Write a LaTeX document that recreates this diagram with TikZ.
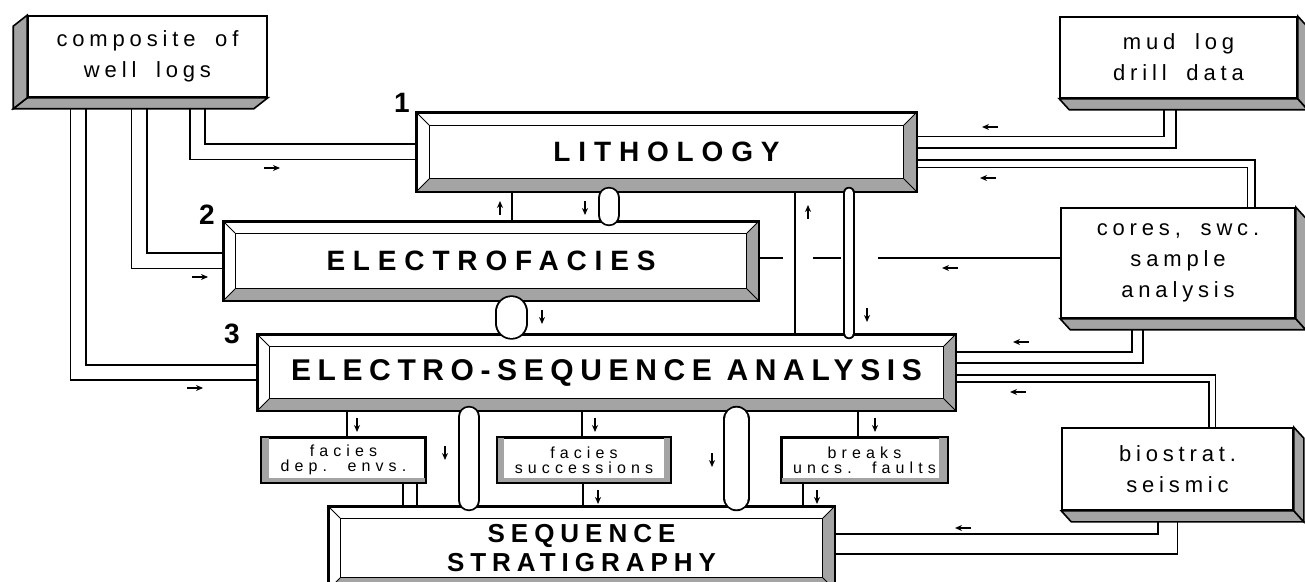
\documentclass[tikz,border=0pt]{standalone}
\usepackage{fontspec}
\setmainfont{Liberation Sans}
\newfontfamily\sourcefont{Liberation Sans}[LetterSpace=22,WordSpace=1.8]
\newfontfamily\subboxfont{Liberation Sans}[LetterSpace=32,WordSpace=1.8]
\usetikzlibrary{arrows.meta,positioning,calc,backgrounds}
\definecolor{bevelgray}{HTML}{A4A4A4}

\newcommand{\bevelframe}[2]{%
  \fill[bevelgray] (#1.south west) -- (#1.south east) -- ([shift={(-#2,-#2)}]#1.south east) -- ([shift={(#2,-#2)}]#1.south west) -- cycle;
  \fill[bevelgray] (#1.south east) -- (#1.north east) -- ([shift={(-#2,#2)}]#1.north east) -- ([shift={(-#2,-#2)}]#1.south east) -- cycle;
  \draw ([shift={(#2,#2)}]#1.north west) rectangle ([shift={(-#2,-#2)}]#1.south east);
  \draw (#1.north west) -- ++(#2,#2) (#1.north east) -- ++(-#2,#2) (#1.south east) -- ++(-#2,-#2) (#1.south west) -- ++(#2,-#2);
  \draw[thick] (#1.south west) rectangle (#1.north east);
}
\newcommand{\slab}[4]{%
  \filldraw[fill=bevelgray, thick] (#1.south west) -- (#1.south east) -- ++(#2,#3) -- ([shift={(#2,#3)}]#1.south west) -- cycle;
  \filldraw[fill=bevelgray, thick] (#1.north #4) -- (#1.south #4) -- ++(#2,#3) -- ([shift={(#2,#3)}]#1.north #4) -- cycle;
}

\begin{document}
\begin{tikzpicture}[x=0.5pt,y=-0.5pt,
    stage/.style={draw, thick, fill=white, inner sep=0pt, align=center,
      font=\bfseries\fontsize{14}{16}\selectfont\addfontfeatures{LetterSpace=28}},
    source/.style={draw, thick, fill=white, inner sep=0pt, align=center,
      font=\sourcefont\fontsize{11}{15.5}\selectfont},
    subbox/.style={draw, thick, fill=white, inner sep=0pt, align=center,
      minimum height=22pt, font=\subboxfont\fontsize{8}{7.5}\selectfont},
    stagenum/.style={inner sep=0pt, font=\bfseries\fontsize{14}{16}\selectfont},
    pipe/.style={draw=black, line width=0.9pt, double=white, double distance=#1},
    pipe/.default=6.5pt,
    stub/.style={pipe=#1, line cap=round},
    wire/.style={line width=0.8pt},
    flow/.style={line width=0.7pt, -{Stealth[length=3.5pt,width=3pt]}}]
  \useasboundingbox (0,0) rectangle (1305,582);

  \node[source, minimum width=119.5pt, minimum height=40.5pt] (comp) at (147.5,56.5) {composite of\\well logs};
  \node[source, minimum width=118.5pt, minimum height=40.5pt] (mud) at (1178.5,57.5) {mud log\\drill data};
  \node[source, minimum width=117pt, minimum height=55pt] (cores) at (1178,263) {cores, swc.\\sample\\analysis};
  \node[source, minimum width=115.5pt, minimum height=41pt] (bio) at (1177.5,469) {biostrat.\\seismic};

  \node[stage, minimum width=249.5pt, minimum height=39pt] (lith) at (666.5,152) {LITHOLOGY};
  \node[stage, minimum width=267pt, minimum height=39pt] (efac) at (491,261) {ELECTROFACIES};
  \node[stage, minimum width=348.5pt, minimum height=37.5pt,
    font=\bfseries\fontsize{15}{17}\selectfont\addfontfeatures{LetterSpace=22}] (esa) at (606.5,372.5) {ELECTRO-SEQUENCE ANALYSIS};
  \node[stage, minimum width=252.5pt, minimum height=41pt,
    font=\bfseries\fontsize{13}{14.5}\selectfont\addfontfeatures{LetterSpace=23}] (ss) at (581.5,548) {SEQUENCE\\STRATIGRAPHY};

  \node[subbox, minimum width=81.5pt] (fde) at (343.5,460) {facies\\dep. envs.};
  \node[subbox, minimum width=86pt] (fsu) at (584,460) {facies\\successions};
  \node[subbox, minimum width=82.5pt] (brk) at (864.5,460) {breaks\\uncs. faults};

  \node[stagenum] (n1) at (402,103) {1};
  \node[stagenum] (n2) at (207,215) {2};
  \node[stagenum] (n3) at (232,334) {3};

  \foreach \n/\x in {kA/197.5, kB/139, kC/78, kD/1170, kE/1251, kF/1137.5, kG/1212, kH/1167.5,
      kI/512, kK/609, kL/511.5, kM/795, kN/849, kO/347, kP/582, kQ/858, kR/469, kS/736.5,
      kT/403, kU/417, kV/583, kW/803}
    \coordinate (\n) at (\x,0);
  \foreach \n/\y in {rA/142.5, rB/164, rC/258, rD/357.5, rE/378.5, rF/544}
    \coordinate (\n) at (0,\y);

  \begin{scope}[on background layer]
    \fill[white] (0,0) rectangle (1305,582);
    \draw[pipe=6.7pt] (comp.south -| kA) |- (lith.west);
    \draw[pipe=6.7pt] (comp.south -| kB) |- (efac.west);
    \draw[pipe=6.7pt] (comp.south -| kC) |- (esa.west);
    \draw[pipe=5pt] (mud.south -| kD) |- (lith.east |- rA);
    \draw[pipe=2.7pt] (cores.north -| kE) |- (lith.east |- rB);
    \draw[pipe=4.7pt] (cores.south -| kF) |- (esa.east |- rD);
    \draw[pipe=2.5pt] (bio.north -| kG) |- (esa.east |- rE);
    \draw[pipe=9pt] (bio.south -| kH) |- (ss.east |- rF);
    \draw[wire, dash pattern=on 12pt off 15pt on 14pt off 18.5pt on 120pt] (efac.east |- rC) -- (cores.west |- rC);
    \draw[wire] (lith.south -| kI) -- (efac.north -| kI);
    \draw[wire] (lith.south -| kM) -- (esa.north -| kM);
    \draw[wire] (esa.south -| kO) -- (fde.north -| kO);
    \draw[wire] (esa.south -| kP) -- (fsu.north -| kP);
    \draw[wire] (esa.south -| kQ) -- (brk.north -| kQ);
    \draw[wire] (fde.south -| kT) -- (ss.north -| kT);
    \draw[wire] (fde.south -| kU) -- (ss.north -| kU);
    \draw[wire] (fsu.south -| kV) -- (ss.north -| kV);
    \draw[wire] (brk.south -| kW) -- (ss.north -| kW);
  \end{scope}

  \slab{comp}{-14}{11}{west}
  \slab{mud}{10}{11}{east}
  \slab{cores}{10}{11}{east}
  \slab{bio}{10}{11}{east}
  \bevelframe{lith}{13}
  \bevelframe{efac}{12}
  \bevelframe{esa}{12}
  \bevelframe{ss}{12}
  \foreach \b/\l/\r in {fde/8/0, fsu/7/7, brk/0/9}{
    \fill[bevelgray] (\b.south west) rectangle ([shift={(\l,0)}]\b.north west);
    \fill[bevelgray] (\b.south east) rectangle ([shift={(-\r,0)}]\b.north east);
    \fill[bevelgray] (\b.south west) rectangle ([shift={(0,-5)}]\b.south east);
    \draw[thick] (\b.south west) rectangle (\b.north east);
  }

  \draw[stub=9.2pt, shorten <=3pt, shorten >=3pt] (lith.south -| kK) -- (efac.north -| kK);
  \draw[stub=14.7pt, shorten <=5.5pt, shorten >=5.5pt] (efac.south -| kL) -- (esa.north -| kL);
  \draw[stub=4.2pt, shorten <=0.5pt, shorten >=0.5pt] (lith.south -| kN) -- (esa.north -| kN);
  \draw[stub=9.2pt, shorten <=3pt, shorten >=3pt] (esa.south -| kR) -- (ss.north -| kR);
  \draw[stub=11.7pt, shorten <=4.25pt, shorten >=4.25pt] (esa.south -| kS) -- (ss.north -| kS);

  \foreach \x/\y in {272/168, 200/277, 195/388}
    \draw[flow] (\x-8,\y) -- (\x+8,\y);
  \foreach \x/\y in {990/127, 988/178, 950/268, 1021/342, 1018/392, 963/528}
    \draw[flow] (\x+8,\y) -- (\x-8,\y);
  \foreach \x/\y in {500/208, 808/212}
    \draw[flow] (\x,\y+7) -- (\x,\y-7);
  \foreach \x/\y in {585/208, 867/315, 542/317, 357/425, 595/425, 875/425, 445/453, 712/460, 598/497, 817/497}
    \draw[flow] (\x,\y-7) -- (\x,\y+7);
\end{tikzpicture}
\end{document}
